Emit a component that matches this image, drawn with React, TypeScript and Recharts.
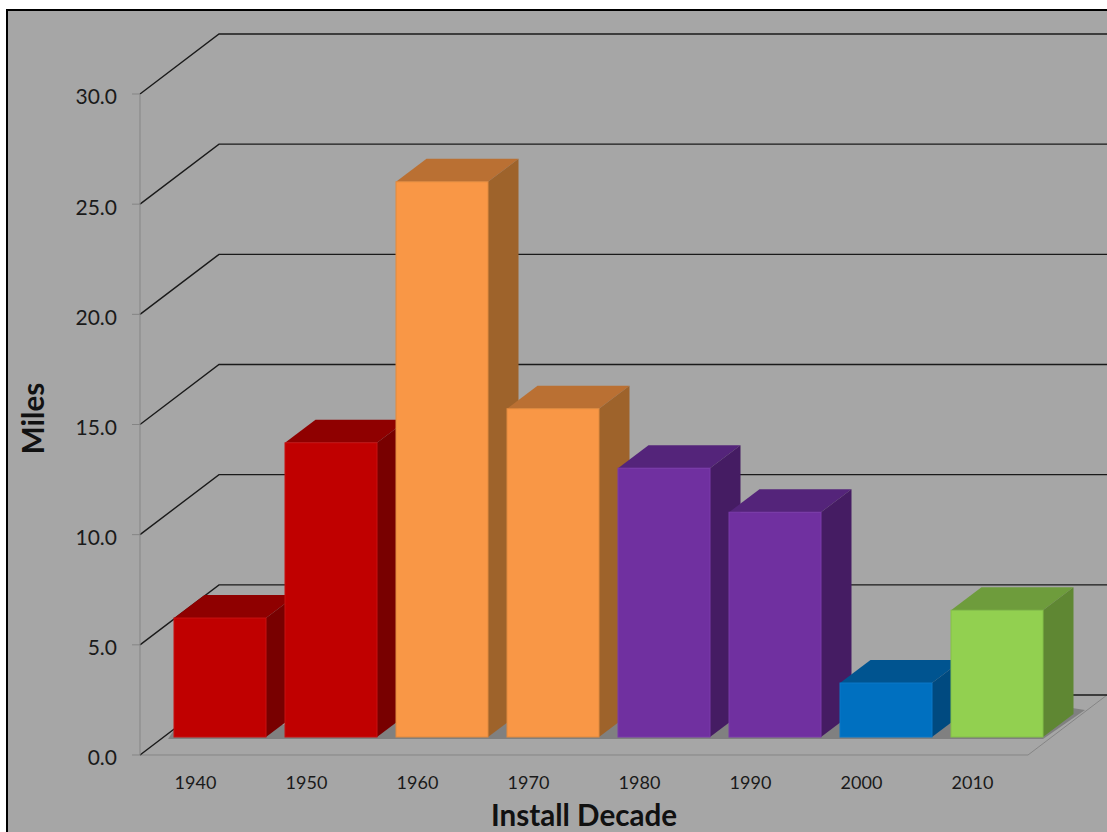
import React from "react";
import { BarChart, Bar, XAxis, YAxis, CartesianGrid, Label } from "recharts";

const decades = ["1940", "1950", "1960", "1970", "1980", "1990", "2000", "2010"];
const miles = [5.4, 13.35, 25.2, 14.9, 12.2, 10.2, 2.45, 5.75];
const frontColors = ["#C00000", "#C00000", "#F99746", "#F99746", "#7030A0", "#7030A0", "#0070C0", "#92D050"];
const topColors = ["#8F0000", "#8F0000", "#BA7033", "#BA7033", "#54247A", "#54247A", "#005490", "#6E9C3C"];
const sideColors = ["#780000", "#780000", "#9E632B", "#9E632B", "#451C63", "#451C63", "#004A80", "#5F8733"];
const edgeColors = ["#C81010", "#C81010", "#E08A3E", "#E08A3E", "#7A3AAA", "#7A3AAA", "#0A78C8", "#84C048"];
const milesTicks = [0, 5, 10, 15, 20, 25, 30];

const tableData = decades.map((decade, i) => ({
  decade,
  miles: miles[i],
  front: frontColors[i],
  top: topColors[i],
  side: sideColors[i],
  edge: edgeColors[i],
}));

// projection of the 3D box: back wall offset and where the bars sit on the floor
const WALL_DX = 79;
const WALL_DY = -60;
const BAR_DX = 24;
const BAR_DY = -18;
const DEPTH_X = 30.5;
const DEPTH_Y = -23;

const WIDTH = 1107;
const HEIGHT = 832;
const AXIS_GRAY = "#858585";

function Box(props: any) {
  const { x, y, width, height, payload } = props;
  const left = x + BAR_DX;
  const right = left + width;
  const top = y + BAR_DY;
  const bottom = top + height;
  return (
    <g>
      <polygon
        points={`${left},${top} ${right},${top} ${right + DEPTH_X},${top + DEPTH_Y} ${left + DEPTH_X},${top + DEPTH_Y}`}
        fill={payload.top}
      />
      <polygon
        points={`${right},${top} ${right + DEPTH_X},${top + DEPTH_Y} ${right + DEPTH_X},${bottom + DEPTH_Y} ${right},${bottom}`}
        fill={payload.side}
      />
      <rect x={left} y={top} width={width} height={height} fill={payload.front} stroke={payload.edge} strokeWidth={1} />
    </g>
  );
}

// each grid line runs up the side wall, then along the back wall
function WallLine(props: any) {
  const { x1, y1, x2, y2, index } = props;
  const isFloor = Math.abs(y1 - 755) < 1;
  const backY = y1 + WALL_DY;
  return (
    <g key={`wall-${index}`}>
      {isFloor && (
        <g>
          <polygon points={`168,739 1043,739 1085,710 1072,708 176,727`} fill="#808080" />
          <line x1={x1} y1={y1} x2={x2} y2={y2} stroke={AXIS_GRAY} />
          <line x1={x2} y1={y1} x2={x2 + WALL_DX} y2={backY} stroke={AXIS_GRAY} />
        </g>
      )}
      <polyline
        points={`${x1},${y1} ${x1 + WALL_DX},${backY} ${WIDTH},${backY}`}
        fill="none"
        stroke="#1a1a1a"
        strokeWidth={1.4}
      />
    </g>
  );
}

export default function App() {
  return (
    <div style={{ position: "absolute", left: 0, top: 0, width: WIDTH, height: HEIGHT, background: "#fff", overflow: "hidden" }}>
      <div
        style={{
          position: "absolute",
          left: 6,
          top: 9,
          right: 0,
          bottom: 0,
          background: "#A6A6A6",
          borderLeft: "2px solid #000",
          borderTop: "2px solid #000",
        }}
      />
      <BarChart
        width={WIDTH}
        height={HEIGHT}
        data={tableData}
        margin={{ top: 94, right: 79, bottom: 0, left: 0 }}
        barSize={92}
        style={{ position: "absolute", left: 0, top: 0, fontFamily: "Lato, sans-serif" }}
      >
        <CartesianGrid vertical={false} horizontal={WallLine} />
        <XAxis
          dataKey="decade"
          axisLine={false}
          tickLine={false}
          tickMargin={15}
          height={77}
          tick={{ fontSize: 18, fill: "#1a1a1a" }}
        >
          <Label value="Install Decade" position="insideBottom" offset={0} dy={-6} style={{ fontSize: 29.6, fontWeight: 700, fill: "#111" }} />
        </XAxis>
        <YAxis
          width={140}
          domain={[0, 30]}
          ticks={milesTicks}
          interval={0}
          tickFormatter={(v: number) => v.toFixed(1)}
          tickSize={8}
          tickMargin={15}
          axisLine={{ stroke: AXIS_GRAY }}
          tickLine={{ stroke: AXIS_GRAY }}
          tick={{ fontSize: 21, fill: "#1a1a1a", dy: 3 }}
        >
          <Label value="Miles" angle={-90} position="insideLeft" offset={33} dy={-6} style={{ fontSize: 29.6, fontWeight: 700, fill: "#111", textAnchor: "middle" }} />
        </YAxis>
        <Bar dataKey="miles" shape={Box} isAnimationActive={false} />
      </BarChart>
    </div>
  );
}
